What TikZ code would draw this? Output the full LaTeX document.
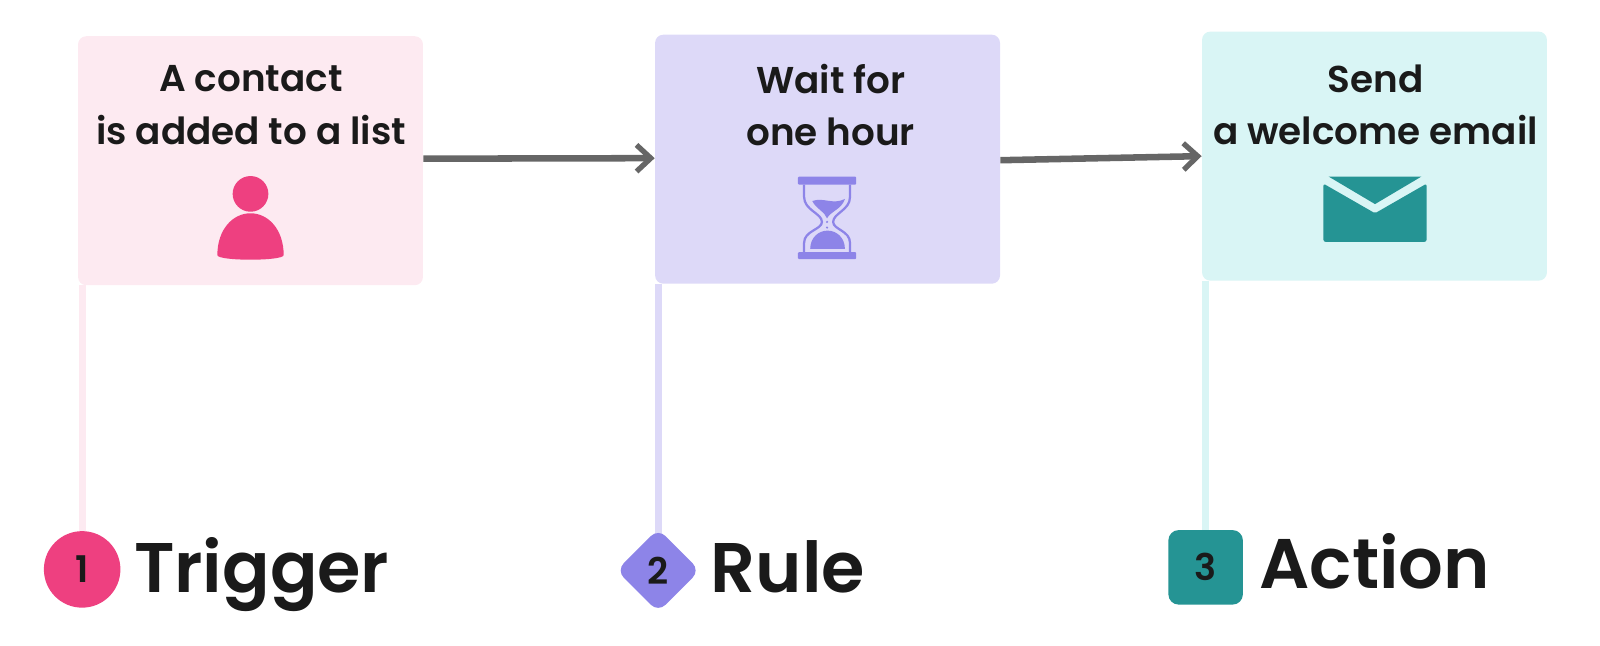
\documentclass[tikz,border=0pt]{standalone}
\usepackage{fontspec}
\setmainfont{Poppins}[BoldFont={Poppins SemiBold}]
\usetikzlibrary{shapes.geometric,arrows.meta,backgrounds}
\definecolor{txt}{HTML}{1A1A1A}
\definecolor{arr}{HTML}{666666}
\definecolor{pinkL}{HTML}{FDEAF1}
\definecolor{pinkD}{HTML}{EE4080}
\definecolor{lavL}{HTML}{DDD9F8}
\definecolor{lavD}{HTML}{8D84E8}
\definecolor{tealL}{HTML}{D9F5F5}
\definecolor{tealD}{HTML}{259494}
\tikzset{
  boxn/.style={rectangle,rounded corners=4pt,minimum width=169pt,minimum height=122pt,inner sep=0pt},
  lab/.style={text=txt,font=\bfseries\fontsize{18.3pt}{25.5pt}\selectfont,align=center,inner sep=0pt},
  big/.style={text=txt,font=\bfseries\fontsize{34.4pt}{36pt}\selectfont,inner sep=0pt,anchor=base west},
  num/.style={text=txt,font=\bfseries\fontsize{18pt}{20pt}\selectfont,inner sep=0pt},
  flow/.style={draw=arr,line width=3.2pt,-{Straight Barb[length=7pt,width=13pt,line width=2.6pt]}},
  stem/.style={line width=3.4pt},
}
\begin{document}
\begin{tikzpicture}[x=0.5pt,y=-0.5pt]
\useasboundingbox (0,0) rectangle (1568,633);
% boxes
\node[boxn,fill=pinkL] (a) at (245.5,157.5) {};
\node[boxn,fill=lavL] (b) at (811,156) {};
\node[boxn,fill=tealL] (c) at (1347,153) {};
% badges
\node[circle,fill=pinkD,minimum size=37.5pt,inner sep=0pt,num] (n1) at (80.5,558) {1};
\node[diamond,fill=lavD,rounded corners=5pt,minimum size=41pt,inner sep=0pt,num] (n2) at (645,559) {2};
\node[rectangle,fill=tealD,rounded corners=5pt,minimum size=36.5pt,inner sep=0pt,num] (n3) at (1181.5,556) {3};
% stems
\coordinate (s1) at (80.5,279);
\coordinate (s2) at (645,278);
\coordinate (s3) at (1181.5,275);
\begin{scope}[on background layer]
\draw[stem,draw=pinkL] (s1) -- (n1.center);
\draw[stem,draw=lavL] (s2) -- (n2.center);
\draw[stem,draw=tealL] (s3) -- (n3.center);
\end{scope}
% labels
\node[lab] (ta) at (246,103) {A contact\hspace{5pt}\\is added to a list};
\node[lab] (tb) at (814,103) {Wait for\hspace{4pt}\\one hour};
\node[lab] (tc) at (1348,103) {Send\hspace{3pt}\\a welcome email};
\node[big] (t1) at (131,581) {Trigger};
\node[big] (t2) at (696,581) {Rule};
\node[big] (t3) at (1234,577) {Action};
% arrows
\draw[flow] ([yshift=1pt]a.east) -- ([yshift=0.5pt]b.west);
\draw[flow] ([yshift=-0.5pt]b.east) -- (c.west);
% person icon
\fill[pinkD] (245.5,190) circle[radius=17.5];
\fill[pinkD] (213,250) .. controls (213,225) and (228,209) .. (245.5,209) .. controls (263,209) and (278,225) .. (278,250) .. controls (278,256) and (213,256) .. (213,250) -- cycle;
% hourglass icon
\fill[lavD,rounded corners=0.5pt] (782,173) rectangle (839,181);
\fill[lavD,rounded corners=0.5pt] (782,247) rectangle (839,254);
\draw[lavD,line width=1.1pt] (788,181) -- (788,193) .. controls (788,206) and (805.5,209) .. (805.5,217.5) .. controls (805.5,225) and (788,226) .. (788,238) -- (788,247);
\draw[lavD,line width=1.1pt] (833,181) -- (833,193) .. controls (833,206) and (816.5,209) .. (816.5,217.5) .. controls (816.5,225) and (833,226) .. (833,238) -- (833,247);
\fill[lavD] (796,197) .. controls (807,193) and (816,201) .. (828,195) .. controls (825,205) and (814,207) .. (810.5,214) .. controls (808,207) and (800,205) .. (796,197) -- cycle;
\fill[lavD] (810.5,217.5) circle[radius=1.2];
\fill[lavD] (810.5,223) circle[radius=1.2];
\fill[lavD] (794,244) .. controls (794,233) and (802,226) .. (811,226) .. controls (820,226) and (828,233) .. (828,244) -- cycle;
% envelope icon
\fill[tealD,rounded corners=1pt] (1297,180) -- (1297,237) -- (1398,237) -- (1398,180) -- (1347.5,209) -- cycle;
\fill[tealD] (1302,173) -- (1393,173) -- (1347.5,200) -- cycle;
\end{tikzpicture}
\end{document}
